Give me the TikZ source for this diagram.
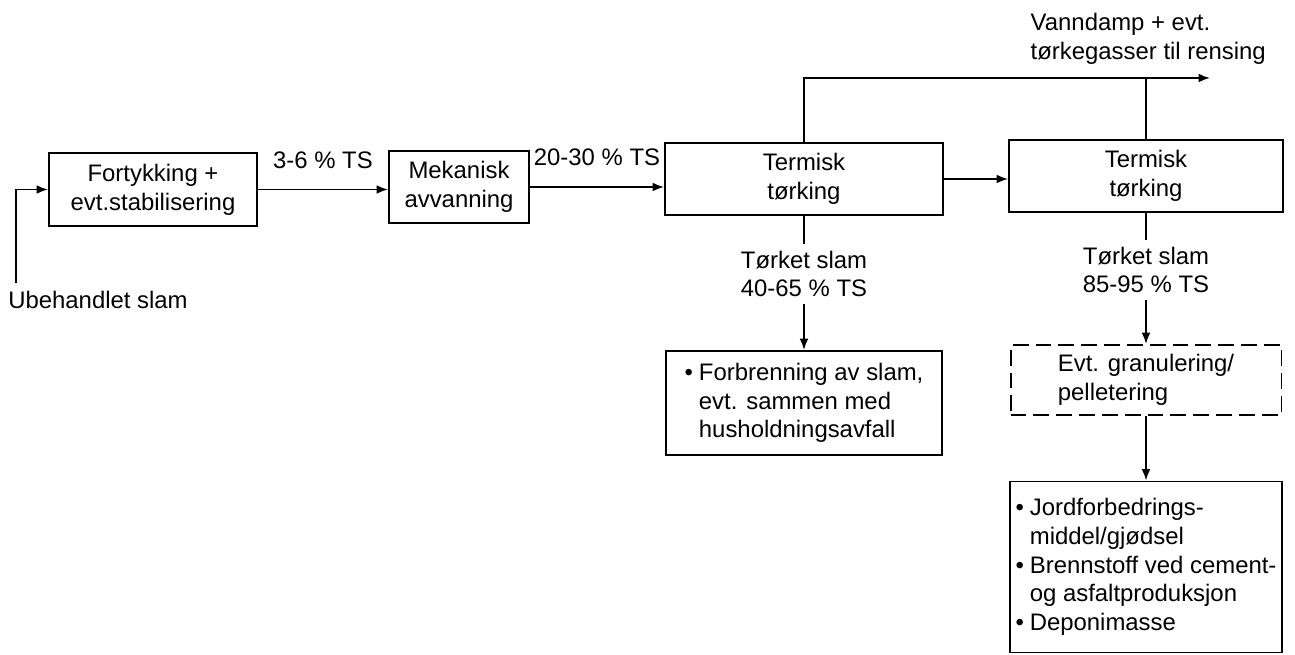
\documentclass[tikz,border=0pt]{standalone}
\usepackage{fontspec}
\setmainfont{Liberation Sans}
\usetikzlibrary{positioning, arrows.meta, calc}

\newcommand{\bpoint}{\makebox[0.6em][l]{\textbullet}}
\newcommand{\bindent}{\hspace*{0.6em}}

\begin{document}
\begin{tikzpicture}[x=0.02cm, y=-0.02cm, >={Latex[length=6.5pt, width=5pt]}, line width=1pt,
    font=\fontsize{13.6}{16.4}\selectfont,
    process/.style={draw, line width=1.1pt, align=center, minimum height=1.44cm},
    outcome/.style={draw, line width=1.1pt, align=left},
    option/.style={draw, line width=1.1pt, dash pattern=on 9pt off 4pt, align=left, minimum height=1.4cm},
    flowlabel/.style={align=center}]
    \useasboundingbox (0, 0) rectangle (1295, 655);

    \node[process, minimum width=4.16cm, minimum height=1.46cm] (fort) at (153, 189.5) {Fortykking +\\evt.stabilisering};
    \node[process, minimum width=2.8cm] (mek) at (459, 187) {Mekanisk\\avvanning};
    \node[process, minimum width=5.56cm] (term1) at (804, 179) {Termisk\\tørking};
    \node[process, minimum width=5.48cm] (term2) at (1146, 176) {Termisk\\tørking};

    \node[flowlabel] (raw) at (98, 300) {Ubehandlet slam};
    \coordinate (rawin) at (16, 283);
    \node[flowlabel, anchor=west, align=left] (vap) at (1024, 39) {Vanndamp + evt.\\tørkegasser til rensing};
    \coordinate (vent) at (1210, 78);

    \node[flowlabel] (dry1) at (804, 274) {Tørket slam\\40-65 \% TS};
    \node[flowlabel] (dry2) at (1146, 270) {Tørket slam\\85-95 \% TS};

    \node[outcome, minimum width=5.52cm, minimum height=2.08cm] (burn) at (804, 403)
        {\bpoint Forbrenning av slam,\\\bindent evt. sammen med\\\bindent husholdningsavfall};
    \node[option, minimum width=5.42cm] (gran) at (1146, 380) {Evt. granulering/\\pelletering};
    \node[outcome, minimum width=5.4cm, minimum height=3.42cm] (use) at (1146, 567)
        {\bpoint Jordforbedrings-\\\bindent middel/gjødsel\\\bpoint Brennstoff ved cement-\\\bindent og asfaltproduksjon\\\bpoint Deponimasse};

    \draw[->] (rawin) |- (fort);
    \draw[->] (fort) -- node[above=8pt]{3-6 \% TS} (fort -| mek.west);
    \draw[->] (mek) -- node[above=8pt]{20-30 \% TS} (mek -| term1.west);
    \draw[->] (term1) -- (term1 -| term2.west);
    \draw[->] (term1) |- (vent);
    \draw (term2) -- (term2 |- vent);

    \draw
        (term1) -- (dry1)
        (term2) -- (dry2)
        ;
    \draw[->]
        (dry1) edge (burn)
        (dry2) edge (gran)
        (gran) edge (use)
        ;
\end{tikzpicture}
\end{document}
